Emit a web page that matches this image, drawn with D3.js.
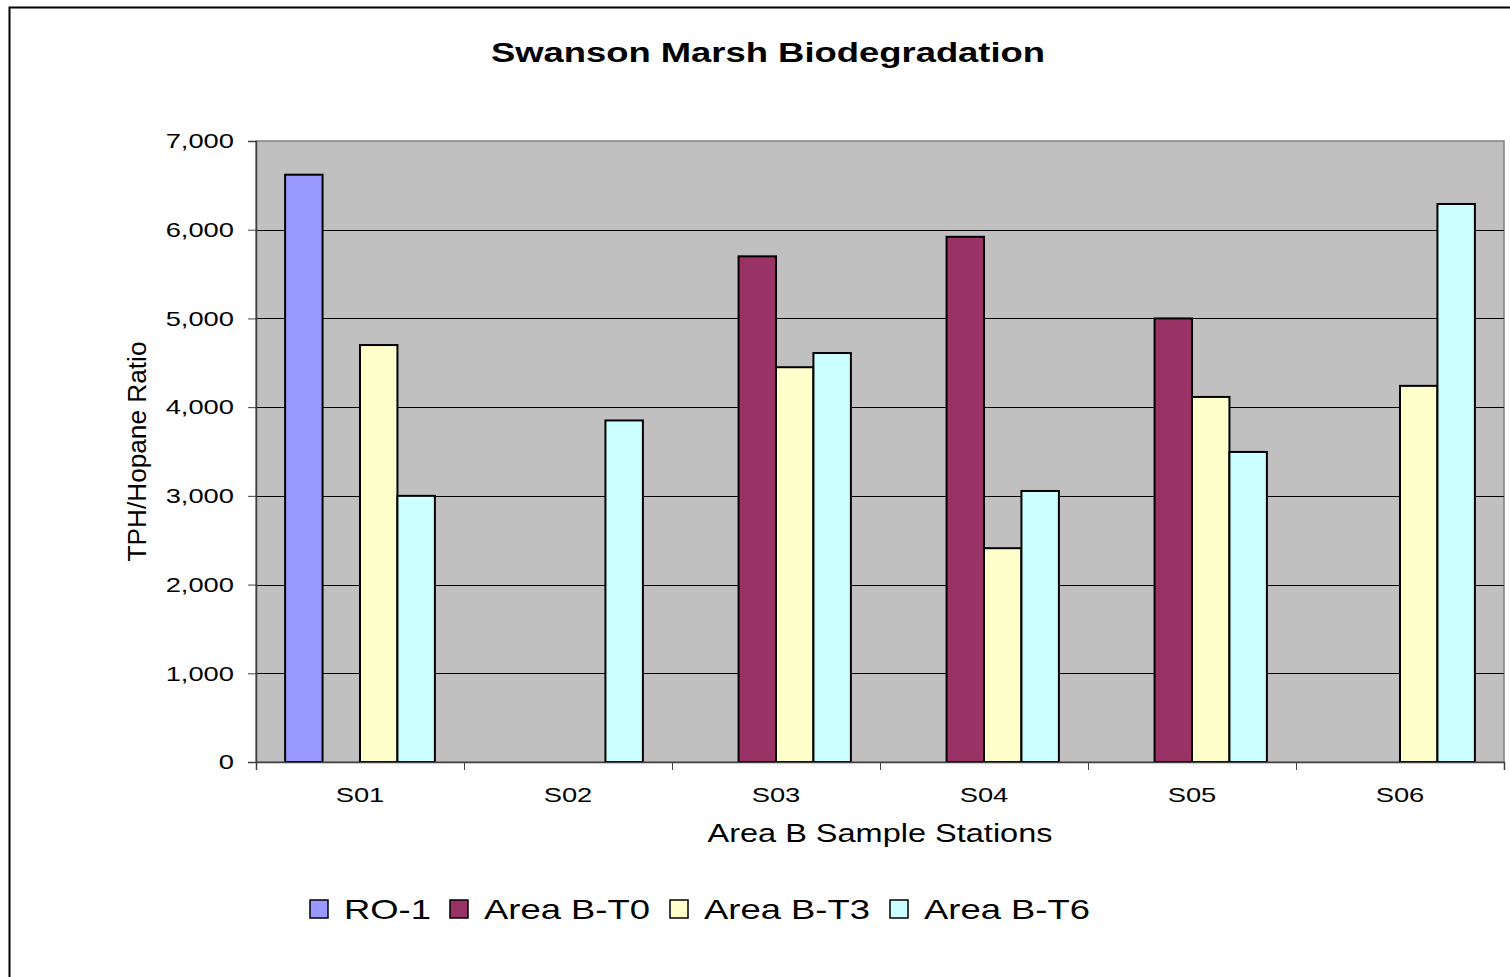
<!DOCTYPE html>
<html>
<head>
<meta charset="utf-8">
<script src="https://cdn.jsdelivr.net/npm/d3@7"></script>
<style>
  body { margin: 0; background: #fff; }
  svg { display: block; font-family: "Liberation Sans", Arial, sans-serif; }
</style>
</head>
<body>
<div id="chart"></div>
<script>
// chart data
var stations = ["S01", "S02", "S03", "S04", "S05", "S06"];
var seriesNames = ["RO-1", "Area B-T0", "Area B-T3", "Area B-T6"];
var seriesColors = ["#9999FF", "#993366", "#FFFFCC", "#CCFFFF"];
var ro1 = [6620, null, null, null, null, null];
var areaT0 = [null, null, 5700, 5920, 5000, null];
var areaT3 = [4700, null, 4450, 2410, 4115, 4240];
var areaT6 = [3000, 3850, 4610, 3055, 3495, 6290];
var yTicks = [0, 1000, 2000, 3000, 4000, 5000, 6000, 7000];

var seriesValues = [ro1, areaT0, areaT3, areaT6];

var width = 1510, height = 977;
var plot = { left: 256, top: 141, right: 1504, bottom: 762 };
// the original text is drawn a bit wider than the font's natural width
var stretch = 1.3;

var svg = d3.select("#chart")
  .append("svg")
  .attr("width", width)
  .attr("height", height);

function widen(sel) {
  sel.each(function () {
    var w = this.getComputedTextLength();
    d3.select(this)
      .attr("textLength", w * stretch)
      .attr("lengthAdjust", "spacingAndGlyphs");
  });
}

// outer chart frame (cut off on right and bottom)
svg.append("rect")
  .attr("x", 9.5).attr("y", 7.5)
  .attr("width", width + 20).attr("height", height + 20)
  .attr("fill", "#fff")
  .attr("stroke", "#000")
  .attr("stroke-width", 2);

var x0 = d3.scaleBand()
  .domain(stations)
  .range([plot.left, plot.right])
  .paddingInner(0.28)
  .paddingOuter(0.14);

var x1 = d3.scaleBand()
  .domain(seriesNames)
  .range([0, x0.bandwidth()]);

var y = d3.scaleLinear()
  .domain([0, 7000])
  .range([plot.bottom, plot.top]);

// plot background
svg.append("rect")
  .attr("x", plot.left).attr("y", plot.top)
  .attr("width", plot.right - plot.left)
  .attr("height", plot.bottom - plot.top)
  .attr("fill", "#C0C0C0")
  .attr("stroke", "#808080")
  .attr("stroke-width", 1.5);

// gridlines
svg.append("g")
  .selectAll("line")
  .data(yTicks.filter(function (d) { return d > 0 && d < 7000; }))
  .enter()
  .append("line")
  .attr("x1", plot.left).attr("x2", plot.right)
  .attr("y1", function (d) { return Math.round(y(d)) + 0.5; })
  .attr("y2", function (d) { return Math.round(y(d)) + 0.5; })
  .attr("stroke", "#000")
  .attr("stroke-width", 1);

// bars
var rows = [];
stations.forEach(function (s, i) {
  seriesNames.forEach(function (n, j) {
    if (seriesValues[j][i] != null) {
      rows.push({ station: s, series: n, value: seriesValues[j][i], color: seriesColors[j] });
    }
  });
});

svg.append("g")
  .selectAll("rect")
  .data(rows)
  .enter()
  .append("rect")
  .attr("x", function (d) { return x0(d.station) + x1(d.series); })
  .attr("y", function (d) { return y(d.value); })
  .attr("width", x1.bandwidth())
  .attr("height", function (d) { return plot.bottom - y(d.value); })
  .attr("fill", function (d) { return d.color; })
  .attr("stroke", "#000")
  .attr("stroke-width", 2);

// y axis
var yAxis = svg.append("g")
  .attr("transform", "translate(" + plot.left + ",0)")
  .call(d3.axisLeft(y)
    .tickValues(yTicks)
    .tickSize(8)
    .tickPadding(14)
    .tickFormat(d3.format(",")));
yAxis.select(".domain").attr("stroke", "#404040").attr("stroke-width", 1.5);
yAxis.selectAll(".tick line").attr("stroke", "#404040");
yAxis.selectAll("text")
  .attr("font-size", 21)
  .attr("fill", "#000")
  .style("font-family", "'Liberation Sans', Arial, sans-serif")
  .call(widen);

// x axis: ticks at category boundaries
var xBound = d3.scaleLinear().domain([0, stations.length]).range([plot.left, plot.right]);
var xAxis = svg.append("g")
  .attr("transform", "translate(0," + plot.bottom + ")")
  .call(d3.axisBottom(xBound)
    .tickValues(d3.range(stations.length + 1))
    .tickSize(8)
    .tickFormat(""));
xAxis.select(".domain").attr("stroke", "#404040").attr("stroke-width", 1.5);
xAxis.selectAll(".tick line").attr("stroke", "#404040");

svg.append("g")
  .selectAll("text")
  .data(stations)
  .enter()
  .append("text")
  .attr("x", function (d) { return x0(d) + x0.bandwidth() / 2; })
  .attr("y", 802)
  .attr("text-anchor", "middle")
  .attr("font-size", 21)
  .text(function (d) { return d; })
  .call(widen);

// titles
svg.append("text")
  .attr("x", 768)
  .attr("y", 62)
  .attr("text-anchor", "middle")
  .attr("font-size", 28)
  .attr("font-weight", "bold")
  .text("Swanson Marsh Biodegradation")
  .call(widen);

svg.append("text")
  .attr("x", (plot.left + plot.right) / 2)
  .attr("y", 842)
  .attr("text-anchor", "middle")
  .attr("font-size", 25)
  .text("Area B Sample Stations")
  .call(widen);

svg.append("text")
  .attr("transform", "translate(146," + ((plot.top + plot.bottom) / 2) + ") rotate(-90)")
  .attr("text-anchor", "middle")
  .attr("font-size", 25)
  .attr("textLength", 220)
  .attr("lengthAdjust", "spacingAndGlyphs")
  .text("TPH/Hopane Ratio");

// legend
var legendX = [310, 450, 670, 890];
var legend = svg.append("g")
  .selectAll("g")
  .data(seriesNames)
  .enter()
  .append("g")
  .attr("transform", function (d, i) { return "translate(" + legendX[i] + ",900)"; });

legend.append("rect")
  .attr("width", 18).attr("height", 18)
  .attr("fill", function (d, i) { return seriesColors[i]; })
  .attr("stroke", "#000")
  .attr("stroke-width", 1.5);

legend.append("text")
  .attr("x", 34)
  .attr("y", 19)
  .attr("font-size", 28)
  .text(function (d) { return d; })
  .call(widen);
</script>
</body>
</html>
